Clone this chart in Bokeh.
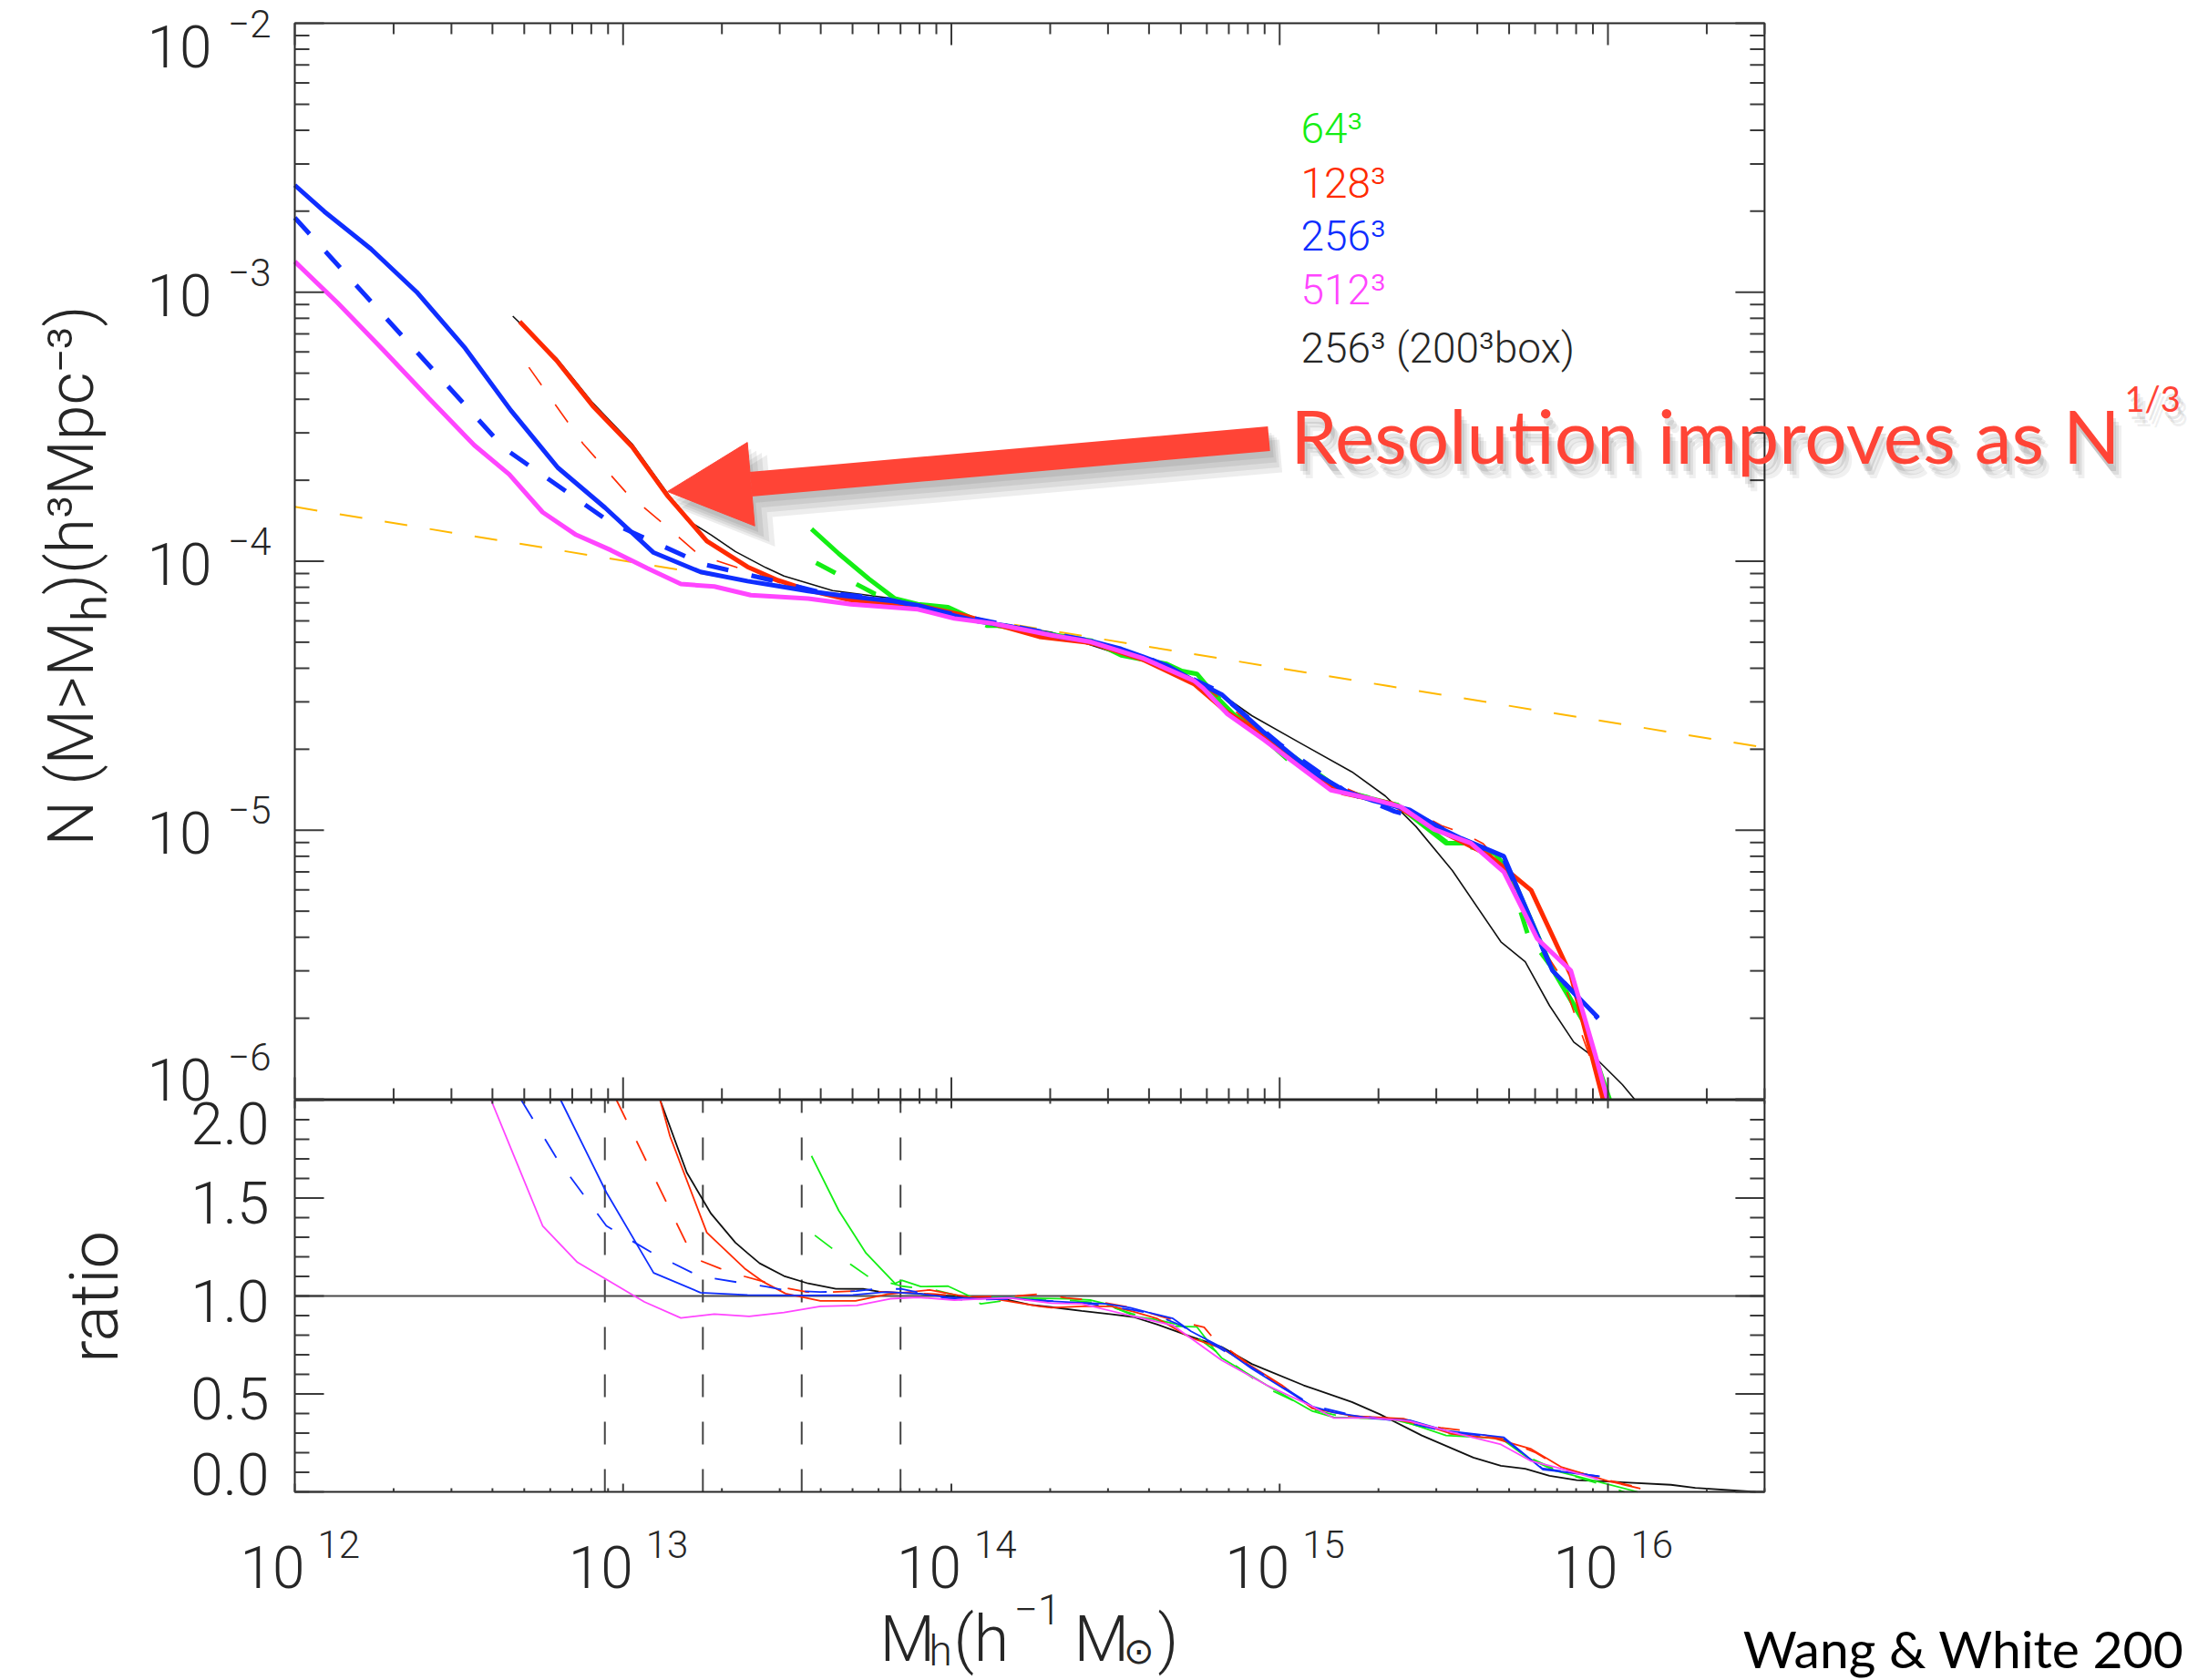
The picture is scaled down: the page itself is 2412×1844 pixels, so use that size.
import numpy as np
from bokeh.embed import file_html
from bokeh.models import Arrow, Label, LinearScale, NormalHead, Range1d
from bokeh.plotting import figure
from bokeh.resources import INLINE

# ---------------------------------------------------------------------------
# Cumulative halo abundance N(>M_h), stored as log10(M_h) and log10(N)
# ---------------------------------------------------------------------------
n256_logm = [12.000, 12.090, 12.232, 12.371, 12.519, 12.658, 12.801, 12.945, 13.093, 13.236,
             13.379, 13.472, 13.564, 13.657, 13.749, 13.823, 13.898, 14.009, 14.083, 14.175,
             14.268, 14.332, 14.425, 14.517, 14.582, 14.656, 14.739, 14.823, 14.952, 15.100,
             15.202, 15.285, 15.396, 15.489, 15.554, 15.683, 15.831, 15.970]
n256_logn = [-2.602, -2.700, -2.839, -2.999, -3.208, -3.439, -3.652, -3.801, -3.968, -4.040,
             -4.074, -4.092, -4.111, -4.126, -4.139, -4.148, -4.164, -4.202, -4.224, -4.241,
             -4.264, -4.281, -4.297, -4.326, -4.354, -4.388, -4.444, -4.495, -4.636, -4.783,
             -4.856, -4.890, -4.924, -4.992, -5.031, -5.097, -5.522, -5.697]

n256d_logm = [12.000, 12.639, 12.963, 13.241, 13.435, 13.600, 13.800, 14.000, 14.200, 14.400,
              14.600, 14.800, 15.000, 15.200, 15.350, 15.450, 15.550, 15.680, 15.830, 15.970]
n256d_logn = [-2.723, -3.581, -3.857, -4.010, -4.066, -4.115, -4.140, -4.195, -4.245, -4.290,
              -4.360, -4.475, -4.680, -4.855, -4.930, -4.965, -5.030, -5.100, -5.520, -5.700]

n512_logm = [12.000, 12.130, 12.269, 12.408, 12.547, 12.653, 12.755, 12.857, 12.963, 13.074,
             13.176, 13.278, 13.389, 13.564, 13.694, 13.898, 14.009, 14.120, 14.305, 14.425,
             14.582, 14.739, 14.767, 14.841, 14.952, 15.045, 15.156, 15.285, 15.369, 15.470,
             15.582, 15.683, 15.785, 15.887, 15.961, 15.998]
n512_logn = [-2.886, -3.039, -3.214, -3.394, -3.569, -3.677, -3.818, -3.902, -3.959, -4.026,
             -4.085, -4.094, -4.126, -4.139, -4.160, -4.179, -4.213, -4.230, -4.275, -4.300,
             -4.360, -4.444, -4.472, -4.568, -4.664, -4.749, -4.851, -4.885, -4.913, -4.997,
             -5.048, -5.155, -5.404, -5.522, -5.833, -6.000]

n128_logm = [12.685, 12.797, 12.908, 13.028, 13.134, 13.255, 13.379, 13.472, 13.564, 13.694,
             13.898, 14.027, 14.268, 14.425, 14.582, 14.739, 14.841, 14.952, 15.100, 15.193,
             15.341, 15.489, 15.637, 15.766, 15.887, 15.985]
n128_logn = [-3.109, -3.253, -3.423, -3.575, -3.755, -3.925, -4.021, -4.071, -4.108, -4.145,
             -4.164, -4.198, -4.281, -4.303, -4.365, -4.456, -4.563, -4.647, -4.794, -4.862,
             -4.901, -5.003, -5.093, -5.223, -5.539, -6.000]

n128d_logm = [12.713, 12.878, 13.009, 13.130, 13.231, 13.361, 13.500, 13.700, 14.000, 14.300,
              14.600, 14.767, 14.952, 15.100, 15.285, 15.420, 15.493, 15.558, 15.620, 15.700,
              15.780, 15.860, 15.990]
n128d_logn = [-3.279, -3.563, -3.744, -3.868, -3.976, -4.029, -4.090, -4.140, -4.200, -4.275,
              -4.360, -4.460, -4.645, -4.790, -4.888, -4.935, -4.983, -5.011, -5.050, -5.160,
              -5.400, -5.550, -6.000]

n064_logm = [13.574, 13.657, 13.749, 13.828, 13.898, 13.990, 14.064, 14.147, 14.425, 14.517,
             14.582, 14.656, 14.702, 14.748, 14.804, 14.859, 14.989, 15.109, 15.193, 15.359,
             15.507, 15.582, 15.656, 15.702, 15.831, 15.924, 16.005]
n064_logn = [-3.880, -3.972, -4.066, -4.139, -4.160, -4.171, -4.213, -4.241, -4.295, -4.350,
             -4.365, -4.382, -4.408, -4.419, -4.500, -4.568, -4.681, -4.783, -4.856, -4.907,
             -5.048, -5.048, -5.088, -5.155, -5.517, -5.709, -6.000]

n064d_logm = [13.588, 13.768, 13.900, 14.000, 14.110, 14.180, 14.300, 14.500, 14.650, 14.767,
              15.035, 15.184, 15.359, 15.507, 15.656, 15.693, 15.757, 15.840, 15.924, 15.996]
n064d_logn = [-4.006, -4.122, -4.165, -4.180, -4.240, -4.240, -4.275, -4.320, -4.390, -4.456,
              -4.749, -4.851, -4.907, -5.043, -5.082, -5.144, -5.392, -5.528, -5.709, -6.000]

big_logm = [12.664, 12.797, 12.908, 13.028, 13.134, 13.194, 13.268, 13.342, 13.435, 13.490,
            13.638, 13.823, 14.027, 14.305, 14.517, 14.656, 14.767, 14.823, 14.915, 15.063,
            15.220, 15.322, 15.415, 15.526, 15.674, 15.748, 15.822, 15.896, 15.970, 16.044,
            16.081]
big_logn = [-3.089, -3.245, -3.412, -3.565, -3.745, -3.846, -3.902, -3.964, -4.024, -4.055,
            -4.109, -4.139, -4.207, -4.264, -4.348, -4.388, -4.456, -4.495, -4.574, -4.676,
            -4.783, -4.873, -4.986, -5.150, -5.415, -5.489, -5.652, -5.788, -5.856, -5.946,
            -6.000]

# reference power law drawn as a dashed guide
guide_logm = [12.000, 16.477]
guide_logn = [-3.798, -4.693]

# ---------------------------------------------------------------------------
# Ratio to the reference abundance, lower panel
# ---------------------------------------------------------------------------
r256_logm = [12.810, 12.949, 13.093, 13.236, 13.379, 13.550, 13.700, 13.800, 13.898,
             13.990, 14.083, 14.175, 14.280, 14.378, 14.471, 14.545, 14.600, 14.675, 14.730,
             14.823, 14.915, 15.100, 15.165, 15.285, 15.396, 15.507, 15.683, 15.803, 15.840,
             15.975]
r256_val = [2.00, 1.529, 1.118, 1.017, 1.005, 1.003, 1.005, 1.020, 1.012,
            0.994, 0.986, 0.991, 0.975, 0.967, 0.960, 0.940, 0.916, 0.885, 0.820,
            0.738, 0.629, 0.436, 0.405, 0.374, 0.366, 0.312, 0.278, 0.113, 0.107,
            0.079]

r256d_logm = [12.690, 12.798, 12.949, 13.093, 13.231, 13.356, 13.435, 13.490, 13.600, 13.710,
              13.770, 13.850, 13.980, 14.040, 14.200, 14.400, 14.550, 14.610, 14.700, 14.820,
              14.950, 15.100, 15.200, 15.300, 15.400, 15.500, 15.680, 15.800, 15.970]
r256d_val = [2.00, 1.702, 1.358, 1.216, 1.102, 1.068, 1.048, 1.030, 1.020, 1.025,
             1.036, 1.036, 0.990, 0.980, 0.985, 0.965, 0.930, 0.910, 0.850, 0.730,
             0.600, 0.440, 0.400, 0.375, 0.350, 0.310, 0.275, 0.120, 0.080]

r512_logm = [12.598, 12.755, 12.861, 13.065, 13.176, 13.278, 13.384, 13.490, 13.601, 13.712,
             13.814, 13.898, 14.009, 14.083, 14.175, 14.305, 14.397, 14.545, 14.675, 14.823,
             14.961, 15.100, 15.165, 15.285, 15.396, 15.525, 15.674, 15.766, 15.840, 15.970]
r512_val = [2.00, 1.358, 1.172, 0.970, 0.888, 0.908, 0.896, 0.916, 0.947, 0.952,
            0.986, 0.993, 0.979, 0.984, 0.990, 0.963, 0.960, 0.900, 0.850, 0.672,
            0.544, 0.436, 0.377, 0.377, 0.361, 0.304, 0.242, 0.157, 0.126, 0.064]

r128_logm = [13.113, 13.143, 13.255, 13.370, 13.425, 13.495, 13.601, 13.708, 13.805, 13.934,
             14.000, 14.064, 14.101, 14.268, 14.305, 14.397, 14.489, 14.554, 14.628, 14.730,
             14.823, 14.915, 15.007, 15.100, 15.229, 15.377, 15.525, 15.655, 15.766, 15.859,
             15.998, 16.099]
r128_val = [2.00, 1.815, 1.324, 1.141, 1.074, 1.012, 0.975, 0.975, 1.009, 1.031,
            1.010, 0.990, 0.994, 0.947, 0.940, 0.947, 0.947, 0.920, 0.884, 0.786,
            0.733, 0.641, 0.544, 0.426, 0.386, 0.374, 0.296, 0.273, 0.219, 0.126,
            0.056, 0.017]

r128d_logm = [12.980, 13.194, 13.236, 13.296, 13.370, 13.435, 13.500, 13.560, 13.630, 13.700,
              13.800, 13.950, 14.050, 14.200, 14.270, 14.350, 14.420, 14.550, 14.650, 14.770,
              14.800, 14.950, 15.100, 15.200, 15.350, 15.490, 15.550, 15.680, 15.780, 15.860,
              16.000, 16.100]
r128d_val = [2.00, 1.265, 1.180, 1.140, 1.100, 1.070, 1.040, 1.020, 1.020, 1.025,
             1.020, 1.010, 0.995, 1.000, 1.010, 0.990, 0.980, 0.940, 0.890, 0.840,
             0.780, 0.600, 0.430, 0.390, 0.370, 0.327, 0.315, 0.270, 0.200, 0.120,
             0.060, 0.020]

r064_logm = [13.574, 13.657, 13.740, 13.828, 13.850, 13.907, 13.990, 14.064, 14.200, 14.360,
             14.425, 14.471, 14.564, 14.619, 14.675, 14.748, 14.804, 14.823, 14.961, 15.100,
             15.165, 15.331, 15.396, 15.507, 15.674, 15.757, 15.840, 16.090]
r064_val = [1.715, 1.436, 1.219, 1.064, 1.080, 1.048, 1.050, 0.993, 0.990, 0.985,
            0.979, 0.960, 0.893, 0.881, 0.846, 0.842, 0.720, 0.684, 0.544, 0.412,
            0.381, 0.374, 0.350, 0.288, 0.273, 0.172, 0.107, 0.000]

r064d_logm = [13.584, 13.639, 13.694, 13.750, 13.850, 13.950, 14.050, 14.090, 14.157, 14.300,
              14.450, 14.550, 14.700, 14.820, 14.960, 15.100, 15.200, 15.350, 15.500, 15.680,
              15.760, 15.860, 16.050]
r064d_val = [1.310, 1.240, 1.160, 1.095, 1.050, 1.030, 0.990, 0.960, 0.975, 0.985,
             0.965, 0.910, 0.850, 0.700, 0.530, 0.420, 0.380, 0.370, 0.300, 0.270,
             0.175, 0.100, 0.000]

rbig_logm = [13.113, 13.194, 13.268, 13.342, 13.379, 13.416, 13.490, 13.564, 13.648, 13.731,
             13.786, 13.898, 13.962, 14.064, 14.157, 14.240, 14.305, 14.397, 14.489, 14.554,
             14.628, 14.730, 14.823, 14.915, 15.073, 15.220, 15.304, 15.433, 15.590, 15.674,
             15.748, 15.822, 15.905, 15.998, 16.192, 16.266, 16.450]
rbig_val = [2.00, 1.630, 1.420, 1.273, 1.219, 1.167, 1.102, 1.064, 1.037, 1.036,
            1.020, 1.012, 1.003, 0.994, 0.986, 0.955, 0.943, 0.924, 0.906, 0.893,
            0.854, 0.792, 0.740, 0.653, 0.544, 0.459, 0.397, 0.288, 0.175, 0.133,
            0.118, 0.082, 0.060, 0.053, 0.036, 0.020, 0.000]

# 20-particle mass limits of the four runs
resolution_limits = [8.8e12, 1.75e13, 3.5e13, 7.0e13]

# axis extents and ticks
mass_lo, mass_hi = 1e12, 3e16
abund_lo, abund_hi = 1e-6, 1e-2
ratio_lo, ratio_hi = 0.0, 2.0
mass_decades = [12, 13, 14, 15, 16]
abund_decades = [-6, -5, -4, -3, -2]
ratio_ticks = [0.0, 0.5, 1.0, 1.5, 2.0]
ratio_tick_text = ["0.0", "0.5", "1.0", "1.5", "2.0"]

legend_text = ["64³", "128³", "256³", "512³", "256³ (200³box)"]

GREEN = "#14ee14"
RED = "#ff2a00"
BLUE = "#0f2eff"
MAGENTA = "#ff45ff"
BLACK = "#111111"
ORANGE = "#ffb800"
NOTE_RED = "#ff4436"
INK = "#262626"
TICK_INK = "#3a3a3a"

TICK_FONT = "Roboto Light, Roboto, sans-serif"
NOTE_FONT = "Lato, sans-serif"

legend_color = [GREEN, RED, BLUE, MAGENTA, INK]

# page geometry (pixels): one frame fills the page, both boxes are drawn inside it
PAGE_W, PAGE_H = 2412, 1844
BOX_LEFT = 323
DEX_X = 360.25                 # pixels per decade of mass
BOX_TOP = 25
DEX_Y = 295.25                 # pixels per decade of abundance
RATIO_ZERO_Y = 1637            # page y of ratio = 0
PX_PER_RATIO = 215.0


def exp10(a):
    return [10.0 ** v for v in a]


def sy(page_y):
    """page row (from the top) -> frame screen units (from the bottom)"""
    return PAGE_H - page_y


x_start = 10.0 ** (12 - BOX_LEFT / DEX_X)
x_end = 10.0 ** (12 + (PAGE_W - BOX_LEFT) / DEX_X)
y_end = 10.0 ** (-2 + BOX_TOP / DEX_Y)
y_start = 10.0 ** (-2 - (PAGE_H - BOX_TOP) / DEX_Y)
ratio_end = RATIO_ZERO_Y / PX_PER_RATIO
ratio_start = (RATIO_ZERO_Y - PAGE_H) / PX_PER_RATIO

p = figure(frame_width=PAGE_W, frame_height=PAGE_H, x_axis_type="log", y_axis_type="log",
           x_range=Range1d(x_start, x_end), y_range=Range1d(y_start, y_end),
           x_axis_location=None, y_axis_location=None, min_border=0,
           output_backend="svg", toolbar_location=None)
p.outline_line_color = None
p.xgrid.grid_line_color = None
p.ygrid.grid_line_color = None
p.extra_y_ranges = {"ratio": Range1d(ratio_start, ratio_end)}
p.extra_y_scales = {"ratio": LinearScale()}


def box(y_lo, y_hi, y_major, y_minor, x_len, y_len, rng="default"):
    p.quad(left=mass_lo, right=mass_hi, bottom=y_lo, top=y_hi, fill_color=None,
           line_color=INK, line_width=2, y_range_name=rng)
    x_major = [10.0 ** d for d in mass_decades]
    x_minor = [k * 10.0 ** d for d in range(12, 17) for k in range(2, 10) if k * 10.0 ** d <= mass_hi]
    tick = dict(length_units="screen", line_color=TICK_INK, line_width=2, y_range_name=rng)
    for xs, ln in ((x_major, x_len), (x_minor, x_len // 2)):
        p.ray(x=xs, y=[y_lo] * len(xs), length=ln, angle=np.pi / 2, **tick)
        p.ray(x=xs, y=[y_hi] * len(xs), length=ln, angle=-np.pi / 2, **tick)
    for ys, ln in ((y_major, y_len), (y_minor, y_len // 2)):
        p.ray(x=[mass_lo] * len(ys), y=ys, length=ln, angle=0.0, **tick)
        p.ray(x=[mass_hi] * len(ys), y=ys, length=ln, angle=np.pi, **tick)


def note(text, x, y, size, color=INK, font=TICK_FONT, align="left", baseline="middle",
         xu="screen", yu="screen", xo=0, yo=0, angle=0.0, alpha=1.0, rng="default"):
    p.add_layout(Label(x=x, y=y, x_units=xu, y_units=yu, text=text, text_font=font,
                       text_font_size=f"{size}px", text_color=color, text_align=align,
                       text_baseline=baseline, x_offset=xo, y_offset=yo, angle=angle,
                       text_alpha=alpha, y_range_name=rng))


# ---------------------------------------------------------------------------
# Upper panel: cumulative abundance
# ---------------------------------------------------------------------------
abund_major = [10.0 ** d for d in abund_decades]
abund_minor = [k * 10.0 ** d for d in range(-6, -2) for k in range(2, 10)]

thick = 5
p.line(exp10(guide_logm), exp10(guide_logn), line_color=ORANGE, line_width=2, line_dash="25 25")
p.line(exp10(big_logm), exp10(big_logn), line_color=BLACK, line_width=1.6)
p.line(exp10(n064d_logm), exp10(n064d_logn), line_color=GREEN, line_width=thick, line_dash="24 26")
p.line(exp10(n064_logm), exp10(n064_logn), line_color=GREEN, line_width=thick)
p.line(exp10(n128d_logm), exp10(n128d_logn), line_color=RED, line_width=1.6, line_dash="24 26")
p.line(exp10(n128_logm), exp10(n128_logn), line_color=RED, line_width=thick)
p.line(exp10(n256d_logm), exp10(n256d_logn), line_color=BLUE, line_width=thick, line_dash="24 26")
p.line(exp10(n256_logm), exp10(n256_logn), line_color=BLUE, line_width=thick)
p.line(exp10(n512_logm), exp10(n512_logn), line_color=MAGENTA, line_width=thick)

box(abund_lo, abund_hi, abund_major, abund_minor, x_len=24, y_len=32)

# y tick labels: "10" with a raised exponent
for d in abund_decades:
    shift = -3
    if d == abund_decades[-1]:
        shift = -25
    elif d == abund_decades[0]:
        shift = 22
    note("10", 232, 10.0 ** d, 64, align="right", yu="data", yo=shift)
    note(f"\u2212{abs(d)}", 297, 10.0 ** d, 42, align="right", yu="data", yo=shift + 25)

# y axis title
note("N  (M>M\u2095)(h\u00b3Mpc\u207b\u00b3)", 77, sy(623), 70, align="center", angle=np.pi / 2)

# legend
legend_y = [140, 200, 258, 317, 381]
for txt, col, yy in zip(legend_text, legend_color, legend_y):
    note(txt, 1427, sy(yy), 46, color=col, baseline="alphabetic")

# annotation arrow with a soft drop shadow
tip = (732, sy(539))
tail = (1392, sy(481))
for k, (dx, dy) in enumerate([(4, -7), (7, -11), (10, -15), (13, -19)]):
    p.add_layout(Arrow(x_start=tail[0] + dx, y_start=tail[1] + dy,
                       x_end=tip[0] + dx, y_end=tip[1] + dy,
                       start_units="screen", end_units="screen",
                       line_color="black", line_alpha=0.07, line_width=27 + 3 * k,
                       end=NormalHead(size=92 + 3 * k, fill_color="black", fill_alpha=0.07,
                                      line_width=0, line_alpha=0)))
p.add_layout(Arrow(x_start=tail[0], y_start=tail[1], x_end=tip[0], y_end=tip[1],
                   start_units="screen", end_units="screen",
                   line_color=NOTE_RED, line_width=27,
                   end=NormalHead(size=92, fill_color=NOTE_RED, line_color=NOTE_RED,
                                  line_width=1)))

# annotation text with a soft drop shadow
note_x, note_base = 2326, sy(476)
sup_x, sup_base = 2331, sy(436)
for dx, dy, a in [(3, -8, 0.10), (6, -12, 0.08), (9, -16, 0.06)]:
    note("Resolution improves as N", note_x + dx, note_base + dy, 82, color="black",
         font=NOTE_FONT, align="right", baseline="alphabetic", alpha=a)
    note("1/3", sup_x + dx, sup_base + dy, 38, color="black", font=NOTE_FONT,
         baseline="alphabetic", alpha=a)
note("Resolution improves as N", note_x, note_base, 82, color=NOTE_RED, font=NOTE_FONT,
     align="right", baseline="alphabetic")
note("1/3", sup_x, sup_base, 38, color=NOTE_RED, font=NOTE_FONT, baseline="alphabetic")

# ---------------------------------------------------------------------------
# Lower panel: ratio
# ---------------------------------------------------------------------------
ratio_minor = [round(0.1 * i, 1) for i in range(21)]

for m in resolution_limits:
    p.line([m, m], [ratio_lo, ratio_hi], line_color="#444444", line_width=2, line_dash="25 27",
           y_range_name="ratio")
p.line([mass_lo, mass_hi], [1.0, 1.0], line_color="#4a4a4a", line_width=2, y_range_name="ratio")

thin = 1.8
ratio_lines = [
    (rbig_logm, rbig_val, BLACK, "solid"),
    (r064d_logm, r064d_val, GREEN, "24 26"),
    (r064_logm, r064_val, GREEN, "solid"),
    (r128d_logm, r128d_val, RED, "24 26"),
    (r128_logm, r128_val, RED, "solid"),
    (r256d_logm, r256d_val, BLUE, "24 26"),
    (r256_logm, r256_val, BLUE, "solid"),
    (r512_logm, r512_val, MAGENTA, "solid"),
]
for lm, rv, col, dash in ratio_lines:
    p.line(exp10(lm), rv, line_color=col, line_width=thin, line_dash=dash, y_range_name="ratio")

box(ratio_lo, ratio_hi, ratio_ticks, ratio_minor, x_len=9, y_len=32, rng="ratio")

# ratio tick labels
for v, txt in zip(ratio_ticks, ratio_tick_text):
    shift = -5
    if v == ratio_ticks[-1]:
        shift = -25
    elif v == ratio_ticks[0]:
        shift = 20
    note(txt, 295, v, 64, align="right", yu="data", yo=shift, rng="ratio")

note("ratio", 103, sy(1423), 74, align="center", angle=np.pi / 2)

# mass tick labels
for d in mass_decades:
    note("10", 10.0 ** d, sy(1719), 64, align="right", xu="data", xo=11)
    note(str(d), 10.0 ** d, sy(1694), 42, align="left", xu="data", xo=25)

# mass axis title, set piece by piece: M_h (h^-1 M_sun)
title_base = sy(1798)
note("M", 965, title_base, 70, baseline="alphabetic")
note("h", 1019, title_base - 13, 46, baseline="alphabetic")
note("(h", 1046, title_base, 70, baseline="alphabetic")
note("\u22121", 1112, title_base + 32, 46, baseline="alphabetic")
note("M", 1178, title_base, 70, baseline="alphabetic")
note("\u2299", 1232, title_base - 14, 40, baseline="alphabetic")
note(")", 1270, title_base, 70, baseline="alphabetic")

# citation
note("Wang & White 200", 2396, sy(1808), 57, color="black", font=NOTE_FONT,
     align="right", baseline="alphabetic")

open("out.html", "w").write(file_html(p, INLINE))
